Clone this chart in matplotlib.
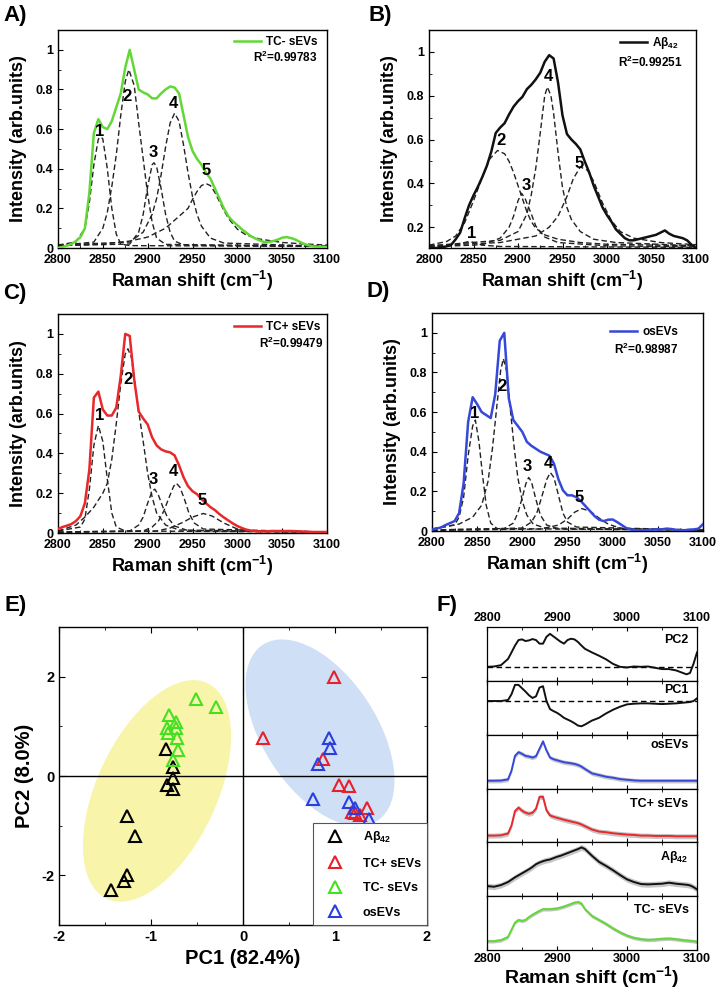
import numpy as np
import matplotlib.pyplot as plt
from matplotlib.patches import Ellipse
from matplotlib.ticker import MultipleLocator, FuncFormatter
from matplotlib.transforms import Affine2D

plt.rcParams['font.family'] = ['Liberation Sans', 'DejaVu Sans']
plt.rcParams['font.weight'] = 'bold'
plt.rcParams['mathtext.fontset'] = 'custom'
plt.rcParams['mathtext.rm'] = 'Liberation Sans:bold'
plt.rcParams['mathtext.it'] = 'Liberation Sans:bold'
plt.rcParams['mathtext.bf'] = 'Liberation Sans:bold'
plt.rcParams['mathtext.default'] = 'rm'
plt.rcParams['axes.unicode_minus'] = False

# ---------------- data: panels A-D (fitted spectra) ----------------
shift = np.arange(2800, 3101, 5)

tc_minus = [0.0, 0.005, 0.012, 0.02, 0.035, 0.055, 0.10, 0.28, 0.58, 0.65,
            0.61, 0.60, 0.64, 0.71, 0.78, 0.91, 1.0, 0.90, 0.80, 0.785,
            0.775, 0.755, 0.755, 0.78, 0.80, 0.815, 0.81, 0.78, 0.67, 0.56,
            0.49, 0.45, 0.42, 0.38, 0.35, 0.30, 0.25, 0.20, 0.16, 0.135,
            0.115, 0.095, 0.077, 0.06, 0.048, 0.038, 0.03, 0.03, 0.035, 0.042,
            0.052, 0.055, 0.05, 0.042, 0.03, 0.02, 0.013, 0.008, 0.006, 0.005,
            0.005]
abeta = [0.105, 0.105, 0.105, 0.108, 0.113, 0.12, 0.145, 0.175, 0.24, 0.30,
         0.345, 0.385, 0.43, 0.48, 0.545, 0.63, 0.655, 0.675, 0.715, 0.75,
         0.775, 0.795, 0.83, 0.85, 0.875, 0.905, 0.955, 0.985, 0.97, 0.86,
         0.71, 0.625, 0.60, 0.58, 0.555, 0.50, 0.45, 0.39, 0.34, 0.29,
         0.255, 0.225, 0.19, 0.17, 0.15, 0.14, 0.14, 0.145, 0.15, 0.155,
         0.16, 0.165, 0.175, 0.185, 0.17, 0.16, 0.155, 0.15, 0.14, 0.12,
         0.105]
tc_plus = [0.02, 0.03, 0.037, 0.045, 0.06, 0.085, 0.15, 0.32, 0.68, 0.71,
           0.62, 0.59, 0.59, 0.63, 0.79, 1.0, 0.99, 0.77, 0.61, 0.575,
           0.545, 0.48, 0.44, 0.42, 0.41, 0.405, 0.39, 0.34, 0.28, 0.235,
           0.21, 0.195, 0.17, 0.15, 0.13, 0.115, 0.095, 0.078, 0.063, 0.048,
           0.035, 0.025, 0.017, 0.012, 0.009, 0.008, 0.008, 0.009, 0.01, 0.01,
           0.01, 0.01, 0.01, 0.009, 0.008, 0.007, 0.006, 0.005, 0.005, 0.005,
           0.005]
os_evs = [0.007, 0.012, 0.018, 0.03, 0.04, 0.05, 0.09, 0.24, 0.55, 0.675,
          0.64, 0.60, 0.585, 0.57, 0.69, 0.96, 1.0, 0.67, 0.56, 0.53,
          0.50, 0.45, 0.43, 0.415, 0.40, 0.39, 0.38, 0.34, 0.26, 0.205,
          0.18, 0.18, 0.17, 0.15, 0.125, 0.10, 0.075, 0.057, 0.05, 0.057,
          0.058, 0.045, 0.03, 0.015, 0.007, 0.004, 0.003, 0.004, 0.005, 0.007,
          0.008, 0.009, 0.012, 0.01, 0.006, 0.004, 0.004, 0.007, 0.008, 0.012,
          0.035]

# fitted components (x, y)
peaks_a = [
    ([2800, 2820, 2830, 2835, 2840, 2845, 2848, 2850, 2855, 2860, 2865, 2870, 2880, 3100],
     [0.015, 0.03, 0.10, 0.23, 0.42, 0.55, 0.56, 0.55, 0.40, 0.20, 0.07, 0.02, 0.012, 0.008]),
    ([2800, 2840, 2850, 2855, 2860, 2865, 2870, 2875, 2879, 2885, 2890, 2895, 2900, 2905, 2910, 2920, 3100],
     [0.012, 0.03, 0.10, 0.18, 0.31, 0.47, 0.67, 0.84, 0.90, 0.82, 0.63, 0.45, 0.27, 0.13, 0.05, 0.018, 0.008]),
    ([2800, 2880, 2890, 2895, 2900, 2905, 2907, 2910, 2915, 2920, 2925, 2930, 2940, 3100],
     [0.012, 0.02, 0.08, 0.17, 0.31, 0.42, 0.43, 0.41, 0.30, 0.17, 0.08, 0.035, 0.015, 0.008]),
    ([2800, 2880, 2895, 2905, 2910, 2915, 2920, 2925, 2930, 2935, 2940, 2945, 2950, 2955, 2960, 2970, 2985, 3100],
     [0.015, 0.03, 0.08, 0.17, 0.25, 0.37, 0.51, 0.63, 0.68, 0.64, 0.52, 0.38, 0.26, 0.17, 0.11, 0.05, 0.025, 0.008]),
    ([2800, 2850, 2880, 2900, 2920, 2935, 2945, 2950, 2955, 2960, 2965, 2970, 2975, 2980, 2985, 2990, 3000, 3010, 3025, 3050, 3075, 3100],
     [0.012, 0.02, 0.035, 0.055, 0.10, 0.16, 0.20, 0.245, 0.285, 0.315, 0.325, 0.315, 0.28, 0.235, 0.19, 0.15, 0.095, 0.065, 0.045, 0.028, 0.02, 0.015]),
]
peaks_b = [
    ([2800, 2830, 2840, 2845, 2850, 2860, 2880, 3100],
     [0.112, 0.118, 0.13, 0.135, 0.13, 0.118, 0.112, 0.108]),
    ([2800, 2820, 2830, 2840, 2850, 2860, 2868, 2877, 2885, 2890, 2895, 2900, 2905, 2910, 2915, 2920, 2930, 2945, 2970, 3000, 3100],
     [0.118, 0.135, 0.16, 0.22, 0.32, 0.43, 0.51, 0.55, 0.535, 0.50, 0.45, 0.39, 0.33, 0.27, 0.225, 0.195, 0.165, 0.145, 0.13, 0.122, 0.115]),
    ([2800, 2860, 2880, 2890, 2895, 2900, 2904, 2908, 2915, 2920, 2930, 2945, 3000, 3100],
     [0.11, 0.12, 0.15, 0.20, 0.25, 0.32, 0.355, 0.33, 0.26, 0.205, 0.155, 0.13, 0.115, 0.11]),
    ([2800, 2880, 2900, 2910, 2915, 2920, 2925, 2930, 2933, 2937, 2940, 2945, 2950, 2955, 2960, 2970, 2985, 3010, 3100],
     [0.115, 0.14, 0.18, 0.26, 0.35, 0.47, 0.63, 0.80, 0.84, 0.80, 0.72, 0.54, 0.38, 0.29, 0.235, 0.18, 0.145, 0.13, 0.115]),
    ([2800, 2880, 2920, 2935, 2945, 2955, 2962, 2970, 2978, 2985, 2995, 3005, 3015, 3030, 3060, 3100],
     [0.115, 0.13, 0.16, 0.20, 0.25, 0.34, 0.42, 0.475, 0.46, 0.41, 0.31, 0.23, 0.18, 0.15, 0.13, 0.12]),
]
peaks_c = [
    ([2800, 2825, 2830, 2835, 2840, 2845, 2850, 2855, 2860, 2865, 2875, 3100],
     [0.01, 0.03, 0.07, 0.22, 0.44, 0.54, 0.46, 0.27, 0.10, 0.03, 0.01, 0.005]),
    ([2800, 2820, 2830, 2840, 2850, 2855, 2860, 2865, 2870, 2875, 2878, 2882, 2885, 2890, 2895, 2900, 2905, 2910, 2920, 2935, 3100],
     [0.01, 0.04, 0.08, 0.13, 0.20, 0.25, 0.37, 0.55, 0.75, 0.90, 0.925, 0.88, 0.78, 0.61, 0.46, 0.30, 0.18, 0.10, 0.04, 0.015, 0.005]),
    ([2800, 2880, 2890, 2895, 2900, 2905, 2908, 2912, 2917, 2922, 2930, 2945, 3100],
     [0.005, 0.01, 0.04, 0.08, 0.15, 0.21, 0.22, 0.19, 0.13, 0.08, 0.035, 0.012, 0.005]),
    ([2800, 2895, 2905, 2912, 2918, 2924, 2929, 2932, 2936, 2941, 2946, 2952, 2962, 3100],
     [0.005, 0.01, 0.03, 0.06, 0.11, 0.18, 0.235, 0.25, 0.23, 0.17, 0.10, 0.05, 0.02, 0.005]),
    ([2800, 2910, 2925, 2940, 2950, 2962, 2972, 2985, 3000, 3020, 3100],
     [0.003, 0.01, 0.025, 0.055, 0.08, 0.098, 0.085, 0.05, 0.02, 0.008, 0.003]),
]
peaks_d = [
    ([2800, 2825, 2830, 2835, 2840, 2845, 2848, 2852, 2856, 2860, 2865, 2872, 3100],
     [0.01, 0.03, 0.07, 0.17, 0.38, 0.53, 0.56, 0.45, 0.28, 0.13, 0.04, 0.012, 0.005]),
    ([2800, 2830, 2845, 2855, 2862, 2867, 2872, 2876, 2879, 2883, 2887, 2891, 2895, 2900, 2905, 2912, 2925, 3100],
     [0.01, 0.035, 0.07, 0.13, 0.25, 0.42, 0.64, 0.81, 0.87, 0.80, 0.60, 0.42, 0.27, 0.15, 0.08, 0.035, 0.015, 0.005]),
    ([2800, 2880, 2890, 2895, 2900, 2904, 2907, 2910, 2915, 2920, 2927, 2940, 3100],
     [0.005, 0.012, 0.04, 0.09, 0.17, 0.24, 0.27, 0.25, 0.16, 0.08, 0.03, 0.01, 0.005]),
    ([2800, 2900, 2910, 2916, 2922, 2927, 2931, 2935, 2940, 2945, 2950, 2960, 3100],
     [0.005, 0.015, 0.045, 0.09, 0.18, 0.26, 0.295, 0.27, 0.18, 0.09, 0.045, 0.02, 0.005]),
    ([2800, 2920, 2940, 2950, 2958, 2966, 2975, 2985, 2995, 3010, 3100],
     [0.003, 0.01, 0.03, 0.06, 0.095, 0.113, 0.10, 0.065, 0.035, 0.012, 0.003]),
]

# peak number label positions
lab_a = ([2846.6, 2877.5, 2906, 2929, 2965], [0.59, 0.765, 0.48, 0.73, 0.39])
lab_b = ([2847.5, 2881, 2909, 2933.6, 2969], [0.17, 0.596, 0.39, 0.89, 0.49])
lab_c = ([2846.6, 2878, 2906, 2928.6, 2961], [0.59, 0.77, 0.27, 0.307, 0.164])
lab_d = ([2847.7, 2878, 2905, 2929, 2963], [0.593, 0.727, 0.327, 0.34, 0.168])

# ---------------- data: panel E (PCA scores) ----------------
ab_pc1 = [-0.84, -0.76, -0.76, -0.83, -0.76, -1.26, -1.17, -1.26, -1.29, -1.43]
ab_pc2 = [0.54, 0.19, -0.05, -0.19, -0.27, -0.81, -1.21, -1.99, -2.11, -2.30]
tcp_pc1 = [0.99, 0.22, 0.87, 1.04, 1.15, 1.18, 1.27, 1.35, 1.22]
tcp_pc2 = [2.00, 0.77, 0.34, -0.19, -0.21, -0.72, -0.79, -0.65, -0.75]
tcm_pc1 = [-0.51, -0.29, -0.80, -0.73, -0.83, -0.73, -0.81, -0.72, -0.71, -0.76]
tcm_pc2 = [1.56, 1.38, 1.23, 1.08, 0.96, 0.96, 0.86, 0.76, 0.52, 0.32]
os_pc1 = [0.93, 0.95, 0.82, 0.76, 1.15, 1.22, 1.37]
os_pc2 = [0.76, 0.56, 0.24, -0.46, -0.53, -0.65, -0.87]

# ---------------- data: panel F (loadings and mean spectra) ----------------
f_x = [2800, 2810, 2820, 2830, 2835, 2840, 2845, 2850, 2855, 2860, 2865, 2870,
       2875, 2880, 2885, 2890, 2895, 2900, 2905, 2910, 2915, 2920, 2925, 2930,
       2935, 2940, 2950, 2960, 2970, 2980, 2990, 3000, 3010, 3020, 3030, 3040,
       3050, 3060, 3070, 3080, 3085, 3090, 3095, 3100]
f_pc2 = [0.01, 0.02, 0.06, 0.25, 0.45, 0.66, 0.83, 0.85, 0.80, 0.82, 0.86, 0.83,
         0.72, 0.72, 0.93, 1.02, 0.94, 0.86, 0.78, 0.72, 0.83, 0.87, 0.85, 0.77,
         0.66, 0.56, 0.45, 0.35, 0.24, 0.10, 0.01, -0.01, 0.02, 0.01, 0.02, -0.02,
         -0.06, -0.06, -0.10, -0.18, -0.22, -0.18, 0.10, 0.45]
f_pc1 = [0.0, 0.0, 0.0, 0.03, 0.2, 0.48, 0.48, 0.38, 0.28, 0.17, 0.09, 0.14,
         0.40, 0.44, 0.0, -0.24, -0.30, -0.35, -0.42, -0.50, -0.55, -0.60, -0.66, -0.73,
         -0.75, -0.70, -0.58, -0.50, -0.37, -0.26, -0.17, -0.10, -0.08, -0.07, -0.07, -0.08,
         -0.09, -0.08, -0.07, -0.05, -0.04, -0.03, 0.0, 0.08]
f_os = [0.0, 0.0, 0.005, 0.04, 0.3, 0.74, 0.85, 0.80, 0.74, 0.72, 0.69, 0.73,
        0.95, 1.17, 0.90, 0.69, 0.64, 0.61, 0.58, 0.55, 0.535, 0.52, 0.50, 0.47,
        0.42, 0.35, 0.22, 0.17, 0.12, 0.09, 0.05, 0.03, 0.01, 0.0, 0.0, 0.0,
        0.0, 0.0, 0.0, 0.0, 0.0, 0.0, 0.0, 0.0]
f_tcp = [0.0, 0.0, 0.01, 0.06, 0.3, 0.73, 0.83, 0.74, 0.68, 0.65, 0.68, 0.80,
         1.15, 1.15, 0.75, 0.60, 0.56, 0.53, 0.50, 0.47, 0.445, 0.42, 0.395, 0.37,
         0.33, 0.28, 0.18, 0.12, 0.10, 0.07, 0.05, 0.03, 0.02, 0.0, 0.0, -0.01,
         -0.01, -0.01, -0.02, -0.02, -0.02, -0.02, -0.02, -0.02]
f_ab = [0.0, -0.02, 0.03, 0.12, 0.19, 0.26, 0.32, 0.38, 0.44, 0.50, 0.57, 0.65,
        0.70, 0.74, 0.77, 0.79, 0.83, 0.87, 0.90, 0.94, 0.98, 1.02, 1.06, 1.10,
        1.15, 1.10, 0.90, 0.72, 0.60, 0.47, 0.33, 0.20, 0.12, 0.06, 0.05, 0.06,
        0.07, 0.10, 0.07, 0.05, 0.04, 0.02, -0.03, -0.10]
f_tcm = [0.0, 0.0, 0.03, 0.13, 0.35, 0.57, 0.65, 0.62, 0.65, 0.74, 0.81, 0.87,
         0.93, 0.98, 0.98, 0.98, 0.99, 1.0, 1.03, 1.06, 1.10, 1.14, 1.18, 1.20,
         1.15, 0.98, 0.77, 0.65, 0.53, 0.39, 0.27, 0.17, 0.10, 0.06, 0.04, 0.05,
         0.07, 0.08, 0.06, 0.03, 0.02, 0.01, 0.0, -0.02]
# half width of grey std band for each mean spectrum
std_os, std_tcp, std_ab, std_tcm = 0.065, 0.075, 0.085, 0.055

GREEN = '#62d836'
RED = '#e8282b'
BLUE = '#3548d8'
BLACK = '#111111'

fig = plt.figure(figsize=(7.16, 9.9), dpi=100)
W, H = 716, 990


def px_axes(l, t, r, b):
    return fig.add_axes([l / W, 1 - b / H, (r - l) / W, (b - t) / H])


def fit_panel(ax, y, peaks, color, label, r2, labs, ylim, yticks, leg_xy, r2_xy):
    for px, py in peaks:
        ax.plot(px, py, color='#222222', ls=(0, (4, 2.2)), lw=1.0, zorder=2)
    ax.plot(shift, y, color=color, lw=1.8, zorder=3, label=label)
    for i, (lx, ly) in enumerate(zip(*labs)):
        ax.text(lx, ly, str(i + 1), fontsize=12, fontweight='bold',
                ha='center', va='center', zorder=4)
    ax.set_xlim(2800, 3100)
    ax.set_ylim(*ylim)
    ax.set_yticks(yticks)
    ax.xaxis.set_major_locator(MultipleLocator(50))
    ax.xaxis.set_minor_locator(MultipleLocator(25))
    ax.yaxis.set_minor_locator(MultipleLocator(0.1))
    ax.yaxis.set_major_formatter(FuncFormatter(lambda v, _: f'{v:g}'))
    ax.tick_params(which='both', direction='in', labelsize=9)
    ax.tick_params(which='major', length=3.5)
    ax.tick_params(which='minor', length=2)
    ax.tick_params(axis='x', pad=4.5)
    for s in ax.spines.values():
        s.set_linewidth(1.0)
    ax.set_xlabel('Raman shift (cm$^{-1}$)', fontsize=13, fontweight='bold', labelpad=2)
    ax.set_ylabel('Intensity (arb.units)', fontsize=13, fontweight='bold', labelpad=6)
    ax.legend(loc='center right', bbox_to_anchor=leg_xy, frameon=False,
              handlelength=2.3, handletextpad=0.4, borderpad=0, borderaxespad=0,
              prop={'weight': 'bold', 'size': 8.5})
    ax.text(r2_xy[0], r2_xy[1], r2, transform=ax.transAxes, ha='right', va='center',
            fontsize=8.5, fontweight='bold')


ax_a = px_axes(58, 30, 327, 248)
fit_panel(ax_a, tc_minus, peaks_a, GREEN, 'TC- sEVs', 'R$^2$=0.99783', lab_a,
          (0, 1.1), [0, 0.2, 0.4, 0.6, 0.8, 1.0], (0.963, 0.945), (0.963, 0.876))
ax_b = px_axes(429, 30, 696, 248)
fit_panel(ax_b, abeta, peaks_b, BLACK, 'Aβ$_{42}$', 'R$^2$=0.99251', lab_b,
          (0.105, 1.1), [0.2, 0.4, 0.6, 0.8, 1.0], (0.935, 0.94), (0.951, 0.853))
ax_c = px_axes(58, 314, 327, 533)
fit_panel(ax_c, tc_plus, peaks_c, RED, 'TC+ sEVs', 'R$^2$=0.99479', lab_c,
          (0, 1.1), [0, 0.2, 0.4, 0.6, 0.8, 1.0], (0.974, 0.94), (0.985, 0.868))
ax_d = px_axes(432, 313, 703, 531)
fit_panel(ax_d, os_evs, peaks_d, BLUE, 'osEVs', 'R$^2$=0.98987', lab_d,
          (0, 1.1), [0, 0.2, 0.4, 0.6, 0.8, 1.0], (0.908, 0.913), (0.908, 0.835))

# ---------------- panel E ----------------
ax_e = px_axes(59, 627, 427, 925)
ax_e.set_xlim(-2, 2)
ax_e.set_ylim(-3, 3)
sx = (427 - 59) / 4.0
sy = (925 - 627) / 6.0
for (cx, cy), a, b, ang, col in [((-0.935, -0.30), 119, 60, 65, '#f8f4aa'),
                                  ((0.837, 0.87), 105, 57, -57, '#cfdff5')]:
    el = Ellipse((0, 0), 2 * a, 2 * b, angle=ang, facecolor=col, edgecolor='none',
                 transform=Affine2D().scale(1 / sx, 1 / sy).translate(cx, cy) + ax_e.transData,
                 zorder=0)
    ax_e.add_patch(el)
ax_e.axhline(0, color='k', lw=1.0, zorder=1)
ax_e.axvline(0, color='k', lw=1.0, zorder=1)
mk = dict(ls='none', marker='^', mfc='none', mew=1.5, ms=8.5, zorder=3)
ax_e.plot(ab_pc1, ab_pc2, mec='black', label='Aβ$_{42}$', **mk)
ax_e.plot(tcp_pc1, tcp_pc2, mec='#e8202a', label='TC+ sEVs', **mk)
ax_e.plot(tcm_pc1, tcm_pc2, mec='#44e022', label='TC- sEVs', **mk)
ax_e.plot(os_pc1, os_pc2, mec='#2a3ee0', label='osEVs', **mk)
ax_e.set_xticks([-2, -1, 0, 1, 2])
ax_e.set_yticks([-2, 0, 2])
ax_e.xaxis.set_minor_locator(MultipleLocator(0.5))
ax_e.yaxis.set_minor_locator(MultipleLocator(1))
ax_e.tick_params(which='both', direction='in', top=True, right=True, labelsize=10.5)
ax_e.tick_params(which='major', length=4)
ax_e.tick_params(which='minor', length=2.5)
for s in ax_e.spines.values():
    s.set_linewidth(1.0)
ax_e.set_xlabel('PC1 (82.4%)', fontsize=14.5, fontweight='bold', labelpad=4)
ax_e.set_ylabel('PC2 (8.0%)', fontsize=14.5, fontweight='bold', labelpad=5)
leg = ax_e.legend(loc='lower right', bbox_to_anchor=(1.0, 0.0), borderaxespad=0,
                  fancybox=False, edgecolor='#555555', framealpha=1,
                  prop={'weight': 'bold', 'size': 9}, handlelength=2.5,
                  handletextpad=1.0, labelspacing=1.0, borderpad=0.5)
leg.get_frame().set_linewidth(0.8)
leg.set_zorder(5)

# ---------------- panel F ----------------
f_traces = [
    (f_pc2, BLACK, 'PC2', None, (-0.42, 1.23), 0.76),
    (f_pc1, BLACK, 'PC1', None, (-1.0, 0.60), 0.83),
    (f_os, BLUE, 'osEVs', std_os, (-0.23, 1.37), 0.81),
    (f_tcp, RED, 'TC+ sEVs', std_tcp, (-0.2, 1.40), 0.72),
    (f_ab, BLACK, 'Aβ$_{42}$', std_ab, (-0.30, 1.30), 0.72),
    (f_tcm, GREEN, 'TC- sEVs', std_tcm, (-0.27, 1.38), 0.74),
]
f_top, f_bot = 627, 950
f_h = (f_bot - f_top) / len(f_traces)
for i, (vals, col, name, sd, ylim, ty) in enumerate(f_traces):
    ax = px_axes(487, f_top + i * f_h, 697, f_top + (i + 1) * f_h)
    v = np.array(vals)
    if sd is not None:
        ax.fill_between(f_x, v - sd, v + sd, color='#c6c6c6', lw=0, zorder=1)
    else:
        ax.axhline(0, color='k', ls=(0, (4, 2.5)), lw=1.0, zorder=1)
    ax.plot(f_x, v, color=col, lw=1.4, zorder=2)
    ax.set_xlim(2800, 3100)
    ax.set_ylim(*ylim)
    ax.set_yticks([])
    ax.xaxis.set_major_locator(MultipleLocator(100))
    ax.xaxis.set_minor_locator(MultipleLocator(50))
    ax.tick_params(axis='x', which='both', direction='in', top=True, bottom=True,
                   labelbottom=(i == len(f_traces) - 1), labeltop=(i == 0),
                   labelsize=9, pad=2.5)
    ax.tick_params(axis='x', which='major', length=3)
    ax.tick_params(axis='x', which='minor', length=2)
    for s in ax.spines.values():
        s.set_linewidth(0.9)
    ax.text(0.96, ty, name, transform=ax.transAxes, ha='right', va='center',
            fontsize=9, fontweight='bold')
    if i == len(f_traces) - 1:
        ax.set_xlabel('Raman shift (cm$^{-1}$)', fontsize=14, fontweight='bold', labelpad=-1)

# panel letters
for letter, x, y in [('A)', 3, 16), ('B)', 369, 16), ('C)', 3, 293),
                     ('D)', 366, 292), ('E)', 5, 605), ('F)', 437, 605)]:
    fig.text(x / W, 1 - y / H, letter, fontsize=16, fontweight='bold', va='center', ha='left')

fig.savefig('out.png', dpi=100)
